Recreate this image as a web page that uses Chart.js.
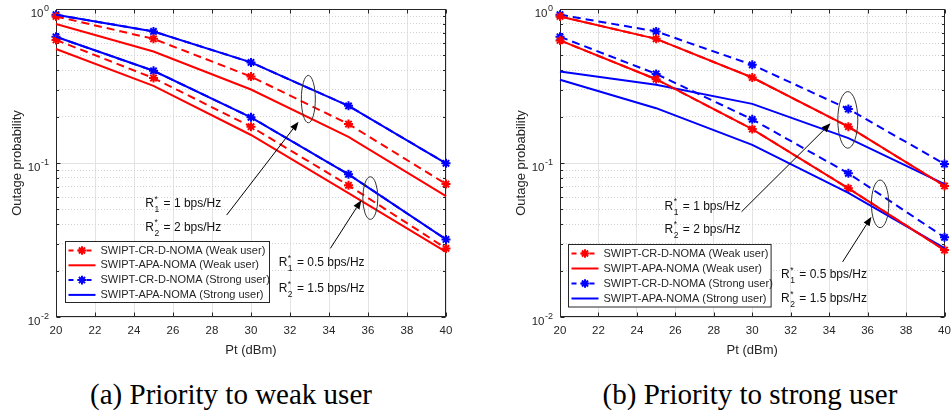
<!DOCTYPE html>
<html>
<head>
<meta charset="utf-8">
<title>Outage probability vs Pt</title>
<script src="https://cdn.jsdelivr.net/npm/chart.js@4.4.1/dist/chart.umd.min.js"></script>
<style>
  html, body { margin: 0; padding: 0; background: #fff; }
  body { position: relative; width: 951px; height: 413px; overflow: hidden; }
  canvas { position: absolute; top: 0; }
  #chart-a { left: 0; }
  #chart-b { left: 476px; }
  .caption {
    position: absolute; top: 377px; transform: translateX(-50%); white-space: nowrap;
    font-family: 'Liberation Serif', 'Times New Roman', serif; font-size: 29px; line-height: 34px; color: #000;
  }
</style>
</head>
<body>
<canvas id="chart-a" width="476" height="360"></canvas>
<canvas id="chart-b" width="475" height="360"></canvas>
<div class="caption" style="left:231px">(a) Priority to weak user</div>
<div class="caption" style="left:750px">(b) Priority to strong user</div>
<script>
'use strict';

// Pt (dBm) sample points and y decades
const ptDbm = [20, 25, 30, 35, 40];
const yDecades = [0.01, 0.1, 1];
const yDecadeExp = ['-2', '-1', '0'];

const seriesLabels = [
    'SWIPT-CR-D-NOMA (Weak user)',
    'SWIPT-APA-NOMA (Weak user)',
    'SWIPT-CR-D-NOMA (Strong user)',
    'SWIPT-APA-NOMA (Strong user)'
];

// (a) priority to weak user. "hi" = R1*=1, R2*=2 ; "lo" = R1*=0.5, R2*=1.5
const aCrdWeakHi = [0.895, 0.64, 0.364, 0.179, 0.073];
const aApaWeakHi = [0.80, 0.53, 0.30, 0.148, 0.061];
const aCrdStrongHi = [0.918, 0.715, 0.45, 0.235, 0.0995];
const aApaStrongHi = [0.918, 0.715, 0.45, 0.235, 0.0995];
const aCrdWeakLo = [0.63, 0.356, 0.172, 0.0716, 0.0279];
const aApaWeakLo = [0.55, 0.317, 0.152, 0.0638, 0.0265];
const aCrdStrongLo = [0.66, 0.397, 0.198, 0.0844, 0.0319];
const aApaStrongLo = [0.66, 0.397, 0.198, 0.0844, 0.0319];

// (b) priority to strong user
const bCrdWeakHi = [0.895, 0.64, 0.359, 0.172, 0.071];
const bApaWeakHi = [0.895, 0.64, 0.359, 0.172, 0.071];
const bCrdStrongHi = [0.918, 0.715, 0.434, 0.224, 0.0985];
const bApaStrongHi = [0.393, 0.322, 0.242, 0.145, 0.073];
const bCrdWeakLo = [0.625, 0.35, 0.166, 0.0685, 0.0272];
const bApaWeakLo = [0.625, 0.35, 0.166, 0.0685, 0.0272];
const bCrdStrongLo = [0.66, 0.379, 0.192, 0.0857, 0.0329];
const bApaStrongLo = [0.347, 0.227, 0.131, 0.064, 0.028];

const RED = '#ff0000';
const BLUE = '#0000ff';
const INK = '#262626';
const FONT = "'Liberation Sans', Arial, Helvetica, sans-serif";

const styles = [
    { label: seriesLabels[0], color: RED, dash: [8, 5], marker: true },
    { label: seriesLabels[1], color: RED, dash: [], marker: false },
    { label: seriesLabels[2], color: BLUE, dash: [8, 5], marker: true },
    { label: seriesLabels[3], color: BLUE, dash: [], marker: false }
];

function isDecade(v) {
    const e = Math.log10(v);
    return Math.abs(e - Math.round(e)) < 1e-6;
}

// 1..9 x each decade, for the dotted minor grid
function logGridValues() {
    const vals = [];
    for (let i = 0; i < yDecades.length - 1; i++) {
        for (let k = 1; k < 10; k++) vals.push(yDecades[i] * k);
    }
    vals.push(yDecades[yDecades.length - 1]);
    return vals;
}

function makeDatasets(curves) {
    const sets = [];
    styles.forEach((s, i) => {
        curves[i].forEach(values => {
            sets.push({
                label: s.label,
                data: ptDbm.map((x, j) => ({ x, y: values[j] })),
                borderColor: s.color,
                backgroundColor: s.color,
                borderWidth: 2,
                borderDash: s.dash,
                pointStyle: 'star',
                pointRadius: s.marker ? 4.5 : 0,
                pointHoverRadius: 0,
                pointBorderWidth: 2,
                pointBorderColor: s.color,
                order: s.marker ? 2 : 1,
                tension: 0,
                fill: false,
                clip: false
            });
        });
    });
    return sets;
}

function drawStar(ctx, cx, cy, r, color) {
    ctx.save();
    ctx.strokeStyle = color;
    ctx.lineWidth = 2;
    ctx.beginPath();
    for (let k = 0; k < 4; k++) {
        const ang = k * Math.PI / 4;
        ctx.moveTo(cx - Math.cos(ang) * r, cy - Math.sin(ang) * r);
        ctx.lineTo(cx + Math.cos(ang) * r, cy + Math.sin(ang) * r);
    }
    ctx.stroke();
    ctx.restore();
}

// "R*_i = text" with superscript star and subscript index
function drawRate(ctx, px, py, idx, rest) {
    const base = py + 4.5;
    ctx.textAlign = 'left';
    ctx.textBaseline = 'alphabetic';
    ctx.fillStyle = '#111';
    ctx.font = `12px ${FONT}`;
    ctx.fillText('R', px, base);
    let cx = px + ctx.measureText('R').width + 0.5;
    ctx.font = `8.5px ${FONT}`;
    ctx.fillText('*', cx, base - 5.5);
    ctx.fillText(String(idx), cx, base + 5);
    cx += ctx.measureText(String(idx)).width + 1;
    ctx.font = `12px ${FONT}`;
    ctx.fillText(' = ' + rest, cx, base);
}

function drawArrow(ctx, x0, y0, x1, y1) {
    const ang = Math.atan2(y1 - y0, x1 - x0);
    const len = 9, half = 3.5;
    const bxp = x1 - Math.cos(ang) * len, byp = y1 - Math.sin(ang) * len;
    ctx.strokeStyle = '#000';
    ctx.fillStyle = '#000';
    ctx.lineWidth = 1;
    ctx.beginPath();
    ctx.moveTo(x0, y0);
    ctx.lineTo(bxp, byp);
    ctx.stroke();
    ctx.beginPath();
    ctx.moveTo(x1, y1);
    ctx.lineTo(bxp - Math.sin(ang) * half, byp + Math.cos(ang) * half);
    ctx.lineTo(bxp + Math.sin(ang) * half, byp - Math.cos(ang) * half);
    ctx.closePath();
    ctx.fill();
}

const matlabDecor = {
    id: 'matlabDecor',
    beforeDatasetsDraw(chart) {
        const { ctx, chartArea: a, scales: { x, y } } = chart;
        const L = Math.round(a.left) + 0.5, R = Math.round(a.right) - 0.5;
        const T = Math.round(a.top) + 0.5, B = Math.round(a.bottom) - 0.5;
        ctx.save();
        ctx.strokeStyle = INK;
        ctx.lineWidth = 1;
        // inward tick marks
        ctx.beginPath();
        x.ticks.forEach(t => {
            const px = Math.round(x.getPixelForValue(t.value)) + 0.5;
            ctx.moveTo(px, B); ctx.lineTo(px, B - 4);
            ctx.moveTo(px, T); ctx.lineTo(px, T + 4);
        });
        y.ticks.forEach(t => {
            const py = Math.round(y.getPixelForValue(t.value)) + 0.5;
            const len = isDecade(t.value) ? 4 : 2.5;
            ctx.moveTo(L, py); ctx.lineTo(L + len, py);
            ctx.moveTo(R, py); ctx.lineTo(R - len, py);
        });
        ctx.stroke();
        ctx.strokeRect(L, T, R - L, B - T);
        ctx.restore();
    },
    afterDraw(chart, args, opts) {
        const { ctx, chartArea: a, scales: { x, y } } = chart;
        ctx.save();

        // decade labels 10^n
        ctx.fillStyle = INK;
        ctx.textAlign = 'left';
        ctx.textBaseline = 'alphabetic';
        yDecades.forEach((v, i) => {
            const py = y.getPixelForValue(v);
            ctx.font = `9px ${FONT}`;
            const we = ctx.measureText(yDecadeExp[i]).width;
            ctx.font = `11.5px ${FONT}`;
            const wb = ctx.measureText('10').width;
            const xr = a.left - 7;
            ctx.fillText('10', xr - we - wb - 0.5, py + 8);
            ctx.font = `9px ${FONT}`;
            ctx.fillText(yDecadeExp[i], xr - we, py + 2);
        });

        // ellipses grouping the curves
        ctx.strokeStyle = '#333';
        ctx.lineWidth = 1;
        opts.ellipses.forEach(e => {
            ctx.beginPath();
            ctx.ellipse(x.getPixelForValue(e.x), y.getPixelForValue(e.y), e.rx, e.ry, 0, 0, Math.PI * 2);
            ctx.stroke();
        });

        opts.arrows.forEach(ar => {
            drawArrow(ctx,
                x.getPixelForValue(ar.from[0]), y.getPixelForValue(ar.from[1]),
                x.getPixelForValue(ar.to[0]), y.getPixelForValue(ar.to[1]));
        });

        opts.rates.forEach(r => {
            drawRate(ctx, x.getPixelForValue(r.x), y.getPixelForValue(r.y), r.idx, r.text);
        });

        // legend box inside the axes
        const lg = opts.legend;
        const bx = Math.round(a.left + lg.dx) + 0.5;
        const by = Math.round(a.top + lg.dy) + 0.5;
        ctx.fillStyle = '#fff';
        ctx.fillRect(bx, by, lg.w, lg.h);
        ctx.strokeStyle = INK;
        ctx.lineWidth = 1;
        ctx.strokeRect(bx, by, lg.w, lg.h);
        styles.forEach((s, i) => {
            const ry = by + 9 + i * lg.step;
            ctx.strokeStyle = s.color;
            ctx.lineWidth = 2;
            ctx.setLineDash(s.dash.length ? [5, 4] : []);
            ctx.beginPath();
            ctx.moveTo(bx + 3, ry);
            ctx.lineTo(bx + 30, ry);
            ctx.stroke();
            ctx.setLineDash([]);
            if (s.marker) drawStar(ctx, bx + 16.5, ry, 4.3, s.color);
            ctx.fillStyle = INK;
            ctx.font = `11px ${FONT}`;
            ctx.textBaseline = 'middle';
            ctx.fillText(s.label, bx + 35, ry);
        });

        ctx.restore();
    }
};

function buildChart(canvasId, curves, panel) {
    return new Chart(document.getElementById(canvasId), {
        type: 'line',
        data: { datasets: makeDatasets(curves) },
        options: {
            responsive: false,
            animation: false,
            events: [],
            layout: { padding: { top: 9, right: panel.padRight, bottom: 0, left: 0 } },
            plugins: {
                legend: { display: false },
                tooltip: { enabled: false },
                matlabDecor: panel
            },
            scales: {
                x: {
                    type: 'linear',
                    min: 20,
                    max: 40,
                    ticks: {
                        stepSize: 2,
                        color: INK,
                        font: { family: FONT, size: 11.5 },
                        padding: 7,
                        maxRotation: 0,
                        autoSkip: false
                    },
                    grid: { color: '#e3e3e3', drawTicks: false },
                    border: { display: false },
                    title: {
                        display: true,
                        text: 'Pt (dBm)',
                        color: INK,
                        font: { family: FONT, size: 13 },
                        padding: { top: 0, bottom: 2 }
                    },
                    afterFit: s => {
                        s.height = 43;
                        s.paddingLeft = 0;
                        s.paddingRight = 0;
                    }
                },
                y: {
                    type: 'logarithmic',
                    min: 0.01,
                    max: 1,
                    afterBuildTicks: s => {
                        s.ticks = logGridValues().map(v => ({ value: v, major: isDecade(v) }));
                    },
                    ticks: { display: false, autoSkip: false },
                    grid: {
                        color: c => (c.tick && !isDecade(c.tick.value)) ? '#d2d2d2' : '#e3e3e3',
                        drawTicks: false
                    },
                    border: {
                        display: false,
                        dash: c => (c.tick && !isDecade(c.tick.value)) ? [1, 2] : []
                    },
                    title: {
                        display: true,
                        text: 'Outage probability',
                        color: INK,
                        font: { family: FONT, size: 13 },
                        padding: { top: panel.titlePad, bottom: 0 }
                    },
                    afterFit: s => {
                        s.width = panel.axisWidth;
                        s.paddingTop = 0;
                        s.paddingBottom = 0;
                    }
                }
            }
        },
        plugins: [matlabDecor]
    });
}

buildChart('chart-a', [
    [aCrdWeakHi, aCrdWeakLo],
    [aApaWeakHi, aApaWeakLo],
    [aCrdStrongHi, aCrdStrongLo],
    [aApaStrongHi, aApaStrongLo]
], {
    axisWidth: 56,
    padRight: 30,
    titlePad: 9.7,
    legend: { dx: 8.5, dy: 231.5, w: 204, h: 61, step: 14.8 },
    ellipses: [
        { x: 32.94, y: 0.26, rx: 7, ry: 23.7 },
        { x: 36.12, y: 0.0592, rx: 7.5, ry: 21.3 }
    ],
    arrows: [
        { from: [28.75, 0.0459], to: [32.44, 0.1856] },
        { from: [34.07, 0.0279], to: [35.66, 0.0574] }
    ],
    rates: [
        { x: 24.58, y: 0.0551, idx: 1, text: '1 bps/Hz' },
        { x: 24.58, y: 0.0389, idx: 2, text: '2 bps/Hz' },
        { x: 31.42, y: 0.0228, idx: 1, text: '0.5 bps/Hz' },
        { x: 31.42, y: 0.0155, idx: 2, text: '1.5 bps/Hz' }
    ]
});

buildChart('chart-b', [
    [bCrdWeakHi, bCrdWeakLo],
    [bApaWeakHi, bApaWeakLo],
    [bCrdStrongHi, bCrdStrongLo],
    [bApaStrongHi, bApaStrongLo]
], {
    axisWidth: 84,
    padRight: 1,
    titlePad: 37.2,
    legend: { dx: 7.7, dy: 234.7, w: 202.6, h: 62.5, step: 15 },
    ellipses: [
        { x: 34.97, y: 0.1905, rx: 10, ry: 28.3 },
        { x: 36.65, y: 0.0543, rx: 8.7, ry: 23.8 }
    ],
    arrows: [
        { from: [29.44, 0.0482], to: [34.07, 0.181] },
        { from: [34.7, 0.0228], to: [36.2, 0.0448] }
    ],
    rates: [
        { x: 25.44, y: 0.0533, idx: 1, text: '1 bps/Hz' },
        { x: 25.44, y: 0.0376, idx: 2, text: '2 bps/Hz' },
        { x: 31.5, y: 0.0191, idx: 1, text: '0.5 bps/Hz' },
        { x: 31.5, y: 0.01337, idx: 2, text: '1.5 bps/Hz' }
    ]
});
</script>
</body>
</html>
